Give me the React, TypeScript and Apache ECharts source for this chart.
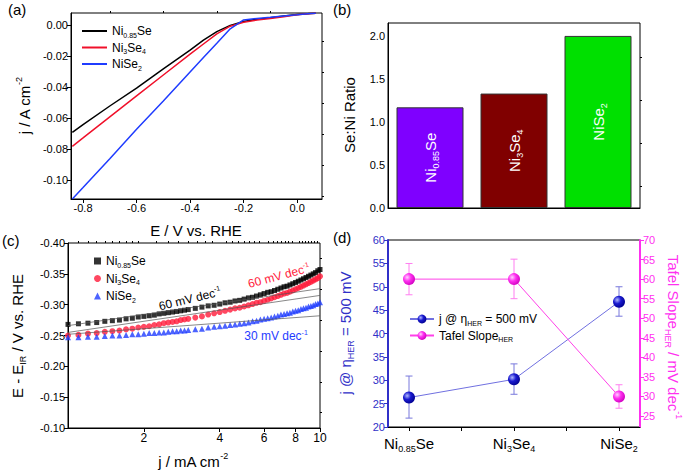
import React, { useEffect, useRef } from 'react';
import * as echarts from 'echarts';

const FONT = '"Liberation Sans", Arial, Helvetica, sans-serif';

// ---------- (a) LSV curves ----------
const lsvPotential = [-0.84, -0.8, -0.7, -0.6, -0.5, -0.4, -0.35, -0.3, -0.25, -0.2, -0.15, -0.1, -0.05, 0, 0.05, 0.07];
const lsvNi085Se = [-0.069, -0.064, -0.052, -0.0405, -0.028, -0.016, -0.0095, -0.004, 0.0, 0.0025, 0.004, 0.005, 0.006, 0.007, 0.0077, 0.0078];
const lsvNi3Se4 = [-0.078, -0.0726, -0.059, -0.0455, -0.032, -0.0185, -0.012, -0.0055, -0.0005, 0.002, 0.0035, 0.0045, 0.0055, 0.0068, 0.0077, 0.0078];
const lsvNiSe2 = [-0.112, -0.1046, -0.086, -0.067, -0.0488, -0.03, -0.0207, -0.0115, -0.0022, 0.0035, 0.0045, 0.0052, 0.006, 0.0068, 0.0077, 0.0078];
const aXTicks = [-0.8, -0.6, -0.4, -0.2, 0.0];
const aXMinor = [-0.7, -0.5, -0.3, -0.1];
const aYTicks = [-0.1, -0.08, -0.06, -0.04, -0.02, 0.0];
const aYMinor = [-0.11, -0.09, -0.07, -0.05, -0.03, -0.01];

// ---------- (b) Se:Ni ratio ----------
const compounds = ['Ni0.85Se', 'Ni3Se4', 'NiSe2'];
const seNiRatio = [1.17, 1.33, 2.0];
const bYTicks = [0, 0.5, 1.0, 1.5, 2.0];
const bYMinor = [0.25, 0.75, 1.25, 1.75];

// ---------- (c) Tafel plots ----------
const tafelJ = [1.0, 1.1, 1.2, 1.3, 1.4, 1.5, 1.6, 1.7, 1.8, 1.9, 2.0, 2.1, 2.2, 2.3, 2.4, 2.5, 2.6, 2.7, 2.8, 2.9, 3.0,
  3.2, 3.4, 3.6, 3.8, 4.0, 4.2, 4.4, 4.6, 4.8, 5.0, 5.2, 5.4, 5.6, 5.8, 6.0, 6.2, 6.4, 6.6, 6.8, 7.0,
  7.2, 7.4, 7.6, 7.8, 8.0, 8.2, 8.4, 8.6, 8.8, 9.0, 9.2, 9.4, 9.6, 9.8, 10.0];
const tafelNi085Se = [-0.268, -0.269, -0.27, -0.271, -0.273, -0.274, -0.275, -0.277, -0.278, -0.28, -0.281, -0.282, -0.283, -0.285, -0.286, -0.287, -0.288, -0.289, -0.29, -0.291, -0.292,
  -0.294, -0.296, -0.298, -0.299, -0.301, -0.303, -0.304, -0.306, -0.307, -0.309, -0.311, -0.312, -0.314, -0.316, -0.318, -0.32, -0.321, -0.323, -0.325, -0.327,
  -0.329, -0.33, -0.332, -0.334, -0.336, -0.338, -0.34, -0.342, -0.344, -0.346, -0.348, -0.35, -0.352, -0.355, -0.357];
const tafelNi3Se4 = [-0.25, -0.251, -0.253, -0.254, -0.256, -0.257, -0.258, -0.26, -0.261, -0.263, -0.264, -0.265, -0.267, -0.268, -0.27, -0.271, -0.272, -0.273, -0.275, -0.276, -0.277,
  -0.279, -0.281, -0.284, -0.286, -0.288, -0.29, -0.292, -0.294, -0.295, -0.297, -0.299, -0.301, -0.303, -0.304, -0.306, -0.308, -0.31, -0.312, -0.314, -0.316,
  -0.318, -0.319, -0.321, -0.323, -0.325, -0.327, -0.329, -0.331, -0.333, -0.335, -0.337, -0.339, -0.341, -0.343, -0.346];
const tafelNiSe2 = [-0.247, -0.247, -0.248, -0.248, -0.249, -0.25, -0.25, -0.251, -0.252, -0.252, -0.253, -0.254, -0.254, -0.255, -0.255, -0.256, -0.257, -0.257, -0.258, -0.258, -0.259,
  -0.26, -0.261, -0.263, -0.264, -0.265, -0.266, -0.267, -0.268, -0.269, -0.27, -0.271, -0.273, -0.274, -0.276, -0.277, -0.278, -0.279, -0.281, -0.282, -0.284,
  -0.285, -0.286, -0.287, -0.289, -0.29, -0.291, -0.293, -0.294, -0.295, -0.297, -0.298, -0.299, -0.301, -0.302, -0.304];
const fitJ = [1, 10];
const fitNi085Se = [-0.266, -0.326];
const fitNi3Se4 = [-0.255, -0.315];
const fitNiSe2 = [-0.252, -0.282];
const cXLabels = [2, 4, 6, 8, 10];
const cYTicks = [-0.4, -0.35, -0.3, -0.25, -0.2, -0.15, -0.1];
const cYMinor = [-0.375, -0.325, -0.275, -0.225, -0.175, -0.125];

// ---------- (d) summary ----------
const dPositions = [0, 1, 2];
const jAt500 = [26.3, 30.2, 46.8];
const jAt500Low = [21.9, 27.0, 43.7];
const jAt500High = [30.9, 33.5, 50.0];
const tafelSlope = [60, 60, 30];
const tafelSlopeLow = [56.0, 55.0, 27.0];
const tafelSlopeHigh = [64.0, 65.1, 33.0];
const dXTicks = [0, 0.5, 1, 1.5, 2];
const dRightTicks = [25, 30, 35, 40, 45, 50, 55, 60, 65, 70];

const cXMinor: number[] = [];
for (let i = 11; i < 20; i++) cXMinor.push(i / 10);
for (let v = 2.25; v < 10; v += 0.25) if (v % 2 !== 0) cXMinor.push(v);

const BLUE_D = '#3030c8';
const MAG_D = '#ff30f0';

const rich = (fs: number, color: string) => {
  const sf = Math.round(fs * 0.62);
  const k = Math.round(fs * 0.7);
  return {
    n: { fontSize: fs, fontFamily: FONT, color, fill: color, verticalAlign: 'middle' },
    s: { fontSize: sf, fontFamily: FONT, color, fill: color, verticalAlign: 'bottom', padding: [k, 0, 0, 0] },
    p: { fontSize: sf, fontFamily: FONT, color, fill: color, verticalAlign: 'top', padding: [0, 0, k, 0] },
  };
};

const compoundRich = ['{n|Ni}{s|0.85}{n|Se}', '{n|Ni}{s|3}{n|Se}{s|4}', '{n|NiSe}{s|2}'];
const barColors = ['#7f00ff', '#800000', '#00e000'];

const gText = (text: string, x: number, y: number, fs: number, color: string, rotation = 0, align = 'center') => ({
  type: 'text', x, y, rotation, silent: true, z: 100,
  style: { text, fontFamily: FONT, fontSize: fs, fill: color, align, verticalAlign: 'middle', rich: rich(fs, color) },
});

const axisLineBlack = { show: true, onZero: false, lineStyle: { color: '#000', width: 1 } };
const lbl = (extra: any = {}) => ({ fontFamily: FONT, fontSize: 11, color: '#000', margin: 3, ...extra });
const minorAxis = (gridIndex: number, type: string, min: number, max: number, values: number[], extra: any = {}) => ({
  gridIndex, type, min, max, ...extra,
  axisLine: { show: false, onZero: false },
  axisLabel: { show: false },
  splitLine: { show: false },
  axisTick: { show: true, customValues: values, length: 2, lineStyle: { color: '#000' } },
});

function errorBarSeries(color: string, lows: number[], highs: number[], yAxisIndex: number) {
  return {
    type: 'custom',
    xAxisIndex: 5,
    yAxisIndex,
    z: 2,
    silent: true,
    encode: { x: 0, y: [1, 2] },
    data: dPositions.map((p, i) => [p, lows[i], highs[i]]),
    renderItem: (params: any, api: any) => {
      const x = api.value(0);
      const lo = api.coord([x, api.value(1)]);
      const hi = api.coord([x, api.value(2)]);
      const cap = 3.5;
      const st = { stroke: color, lineWidth: 1 };
      return {
        type: 'group',
        children: [
          { type: 'line', shape: { x1: hi[0], y1: hi[1], x2: lo[0], y2: lo[1] }, style: st },
          { type: 'line', shape: { x1: hi[0] - cap, y1: hi[1], x2: hi[0] + cap, y2: hi[1] }, style: st },
          { type: 'line', shape: { x1: lo[0] - cap, y1: lo[1], x2: lo[0] + cap, y2: lo[1] }, style: st },
        ],
      };
    },
  };
}

const legendNames: Record<string, string> = {
  'a-0': compoundRich[0], 'a-1': compoundRich[1], 'a-2': compoundRich[2],
  'c-0': compoundRich[0], 'c-1': compoundRich[1], 'c-2': compoundRich[2],
  'd-j': '{n|j @ η}{s|HER}{n| = 500 mV}', 'd-t': '{n|Tafel Slope}{s|HER}',
};

const option: any = {
  animation: false,
  backgroundColor: '#fff',
  textStyle: { fontFamily: FONT },
  grid: [
    { left: 71, top: 13, width: 251, height: 186, show: true, borderColor: '#000', borderWidth: 1 },
    { left: 388, top: 23, width: 252, height: 185, show: true, borderColor: '#000', borderWidth: 1 },
    { left: 68, top: 243, width: 252, height: 185, show: true, borderColor: '#000', borderWidth: 1 },
    { left: 388, top: 240, width: 252, height: 187, show: true, borderColor: '#000', borderWidth: 1 },
  ],
  xAxis: [
    {
      gridIndex: 0, type: 'value', min: -0.845, max: 0.093, axisLine: axisLineBlack, splitLine: { show: false },
      axisTick: { customValues: aXTicks, length: 4, lineStyle: { color: '#000' } },
      axisLabel: lbl({ customValues: aXTicks, formatter: (v: number) => v.toFixed(1) }),
    },
    minorAxis(0, 'value', -0.845, 0.093, aXMinor),
    {
      gridIndex: 1, type: 'category', data: compounds, axisLine: axisLineBlack,
      axisTick: { show: false }, axisLabel: { show: false }, splitLine: { show: false },
    },
    {
      gridIndex: 2, type: 'log', logBase: 10, min: 1, max: 10, axisLine: axisLineBlack, splitLine: { show: false },
      axisTick: { customValues: cXLabels, length: 4, lineStyle: { color: '#000' } },
      axisLabel: lbl({ customValues: cXLabels, fontSize: 12, margin: 4 }),
    },
    minorAxis(2, 'log', 1, 10, cXMinor, { logBase: 10 }),
    {
      gridIndex: 3, type: 'value', min: -0.2, max: 2.2, axisLine: axisLineBlack, splitLine: { show: false },
      axisTick: { customValues: dXTicks, length: 4, lineStyle: { color: '#000' } },
      axisLabel: {
        customValues: dPositions, margin: 6,
        formatter: (v: number) => compoundRich[Math.round(v)],
        rich: rich(15, '#000'),
      },
    },
  ],
  yAxis: [
    {
      gridIndex: 0, type: 'value', min: -0.112, max: 0.008, axisLine: axisLineBlack, splitLine: { show: false },
      axisTick: { customValues: aYTicks, length: 4, lineStyle: { color: '#000' } },
      axisLabel: lbl({ customValues: aYTicks, formatter: (v: number) => v.toFixed(2) }),
    },
    minorAxis(0, 'value', -0.112, 0.008, aYMinor),
    {
      gridIndex: 1, type: 'value', min: 0, max: 2.15, axisLine: axisLineBlack, splitLine: { show: false },
      axisTick: { customValues: bYTicks, length: 4, lineStyle: { color: '#000' } },
      axisLabel: lbl({ customValues: bYTicks, formatter: (v: number) => v.toFixed(1) }),
    },
    minorAxis(1, 'value', 0, 2.15, bYMinor),
    {
      gridIndex: 2, type: 'value', min: -0.4, max: -0.1, inverse: true, axisLine: axisLineBlack, splitLine: { show: false },
      axisTick: { customValues: cYTicks, length: 4, lineStyle: { color: '#000' } },
      axisLabel: lbl({ customValues: cYTicks, formatter: (v: number) => v.toFixed(2) }),
    },
    minorAxis(2, 'value', -0.4, -0.1, cYMinor, { inverse: true }),
    {
      gridIndex: 3, type: 'value', min: 20, max: 60, interval: 5,
      axisLine: { show: true, onZero: false, lineStyle: { color: BLUE_D, width: 2 } }, splitLine: { show: false },
      axisTick: { length: 4, lineStyle: { color: BLUE_D } },
      axisLabel: lbl({ color: BLUE_D }),
    },
    {
      gridIndex: 3, type: 'value', position: 'right', min: 22.2, max: 70,
      axisLine: { show: true, onZero: false, lineStyle: { color: MAG_D, width: 2 } }, splitLine: { show: false },
      axisTick: { customValues: dRightTicks, length: 4, lineStyle: { color: MAG_D } },
      axisLabel: lbl({ customValues: dRightTicks, color: MAG_D }),
    },
  ],
  legend: [
    {
      data: ['a-0', 'a-1', 'a-2'], orient: 'vertical', left: 77, top: 20, icon: 'rect', itemWidth: 25, itemHeight: 2, itemGap: 3,
      selectedMode: false, formatter: (n: string) => legendNames[n], textStyle: { fontSize: 12, rich: rich(12, '#000') },
    },
    {
      data: ['c-0', 'c-1', 'c-2'], orient: 'vertical', left: 89, top: 250, itemWidth: 7, itemHeight: 7, itemGap: 4,
      selectedMode: false, formatter: (n: string) => legendNames[n], textStyle: { fontSize: 12, rich: rich(12, '#000') },
    },
    {
      data: ['d-j', 'd-t'], orient: 'vertical', left: 404, top: 308, itemWidth: 24, itemHeight: 11, itemGap: 3,
      selectedMode: false, formatter: (n: string) => legendNames[n], textStyle: { fontSize: 12, rich: rich(12, '#000') },
    },
  ],
  series: [
    // (a)
    { name: 'a-0', type: 'line', xAxisIndex: 0, yAxisIndex: 0, symbol: 'none', lineStyle: { color: '#000', width: 1.5 }, itemStyle: { color: '#000' }, data: lsvPotential.map((e, i) => [e, lsvNi085Se[i]]) },
    { name: 'a-1', type: 'line', xAxisIndex: 0, yAxisIndex: 0, symbol: 'none', lineStyle: { color: '#f0102a', width: 1.5 }, itemStyle: { color: '#f0102a' }, data: lsvPotential.map((e, i) => [e, lsvNi3Se4[i]]) },
    { name: 'a-2', type: 'line', xAxisIndex: 0, yAxisIndex: 0, symbol: 'none', lineStyle: { color: '#1f3cff', width: 1.5 }, itemStyle: { color: '#1f3cff' }, data: lsvPotential.map((e, i) => [e, lsvNiSe2[i]]) },
    // (b)
    {
      type: 'bar', xAxisIndex: 2, yAxisIndex: 2, barWidth: 67,
      itemStyle: { borderColor: '#333', borderWidth: 1 },
      data: seNiRatio.map((v, i) => ({ value: v, itemStyle: { color: barColors[i] } })),
      label: {
        show: true, position: 'inside', rotate: 90, color: '#fff',
        formatter: (p: any) => compoundRich[p.dataIndex], rich: rich(15, '#fff'),
      },
    },
    // (c)
    { name: 'c-0', type: 'scatter', xAxisIndex: 3, yAxisIndex: 4, symbol: 'rect', symbolSize: 5, itemStyle: { color: '#000' }, data: tafelJ.map((j, i) => [j, tafelNi085Se[i]]) },
    { name: 'c-1', type: 'scatter', xAxisIndex: 3, yAxisIndex: 4, symbol: 'circle', symbolSize: 6, itemStyle: { color: '#ff1a3a' }, data: tafelJ.map((j, i) => [j, tafelNi3Se4[i]]) },
    { name: 'c-2', type: 'scatter', xAxisIndex: 3, yAxisIndex: 4, symbol: 'triangle', symbolSize: 6, itemStyle: { color: '#1f3cff' }, data: tafelJ.map((j, i) => [j, tafelNiSe2[i]]) },
    { type: 'line', xAxisIndex: 3, yAxisIndex: 4, symbol: 'none', z: 5, lineStyle: { color: '#555', width: 0.7 }, data: fitJ.map((j, i) => [j, fitNi085Se[i]]) },
    { type: 'line', xAxisIndex: 3, yAxisIndex: 4, symbol: 'none', z: 5, lineStyle: { color: '#555', width: 0.7 }, data: fitJ.map((j, i) => [j, fitNi3Se4[i]]) },
    { type: 'line', xAxisIndex: 3, yAxisIndex: 4, symbol: 'none', z: 5, lineStyle: { color: '#555', width: 0.7 }, data: fitJ.map((j, i) => [j, fitNiSe2[i]]) },
    // (d)
    errorBarSeries('#7878dc', jAt500Low, jAt500High, 6),
    errorBarSeries('#ff7ef0', tafelSlopeLow, tafelSlopeHigh, 7),
    {
      name: 'd-j', type: 'line', xAxisIndex: 5, yAxisIndex: 6, symbol: 'circle', symbolSize: 12, z: 3,
      lineStyle: { color: '#7070e0', width: 1 },
      itemStyle: { color: new echarts.graphic.RadialGradient(0.35, 0.35, 0.7, [{ offset: 0, color: '#b0b8ff' }, { offset: 0.45, color: '#1a1ad0' }, { offset: 1, color: '#000090' }]) },
      data: dPositions.map((p, i) => [p, jAt500[i]]),
    },
    {
      name: 'd-t', type: 'line', xAxisIndex: 5, yAxisIndex: 7, symbol: 'circle', symbolSize: 12, z: 3,
      lineStyle: { color: '#ff40e8', width: 1 },
      itemStyle: { color: new echarts.graphic.RadialGradient(0.35, 0.35, 0.7, [{ offset: 0, color: '#ffd0ff' }, { offset: 0.45, color: '#ff30f0' }, { offset: 1, color: '#d000c0' }]) },
      data: dPositions.map((p, i) => [p, tafelSlope[i]]),
    },
  ],
  graphic: {
    elements: [
      gText('(a)', 8, 9, 15, '#000', 0, 'left'),
      gText('(b)', 333, 9, 15, '#000', 0, 'left'),
      gText('(c)', 2, 240, 15, '#000', 0, 'left'),
      gText('(d)', 333, 237, 15, '#000', 0, 'left'),
      gText('{n|E / V vs. RHE}', 196, 230, 15, '#000'),
      gText('{n|j / A cm}{p|-2}', 24, 106, 15, '#000', Math.PI / 2),
      gText('{n|Se:Ni Ratio}', 349, 115, 15, '#000', Math.PI / 2),
      gText('{n|j / mA cm}{p|-2}', 193, 461, 15, '#000'),
      gText('{n|E - E}{s|IR}{n| / V vs. RHE}', 17, 336, 15, '#000', Math.PI / 2),
      gText('{n|j @ η}{s|HER}{n| = 500 mV}', 345, 333, 15, BLUE_D, Math.PI / 2),
      gText('{n|Tafel Slope}{s|HER}{n| / mV dec}{p|-1}', 673, 337, 15, MAG_D, -Math.PI / 2),
      gText('{n|60 mV dec}{p|-1}', 190, 299, 12, '#000', 0.24),
      gText('{n|60 mV dec}{p|-1}', 279, 276, 12, '#ff1a3a', 0.26),
      gText('{n|30 mV dec}{p|-1}', 276, 336, 12, '#1f3cff'),
    ],
  },
};

export default function App() {
  const ref = useRef<HTMLDivElement>(null);
  useEffect(() => {
    const chart = echarts.init(ref.current!, null, { renderer: 'svg' });
    chart.setOption(option);
    return () => chart.dispose();
  }, []);
  return <div ref={ref} style={{ position: 'fixed', left: 0, top: 0, width: 685, height: 473, background: '#fff' }} />;
}
